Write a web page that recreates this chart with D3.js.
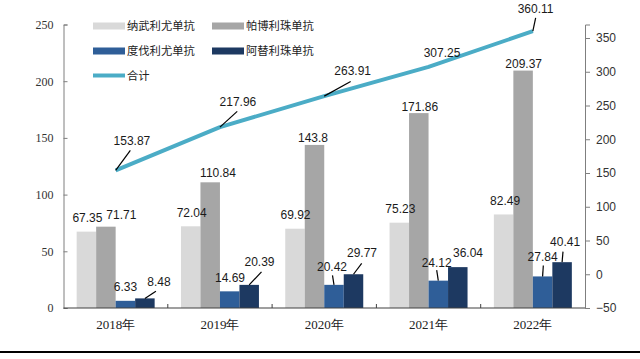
<!DOCTYPE html>
<html>
<head>
<meta charset="utf-8">
<script src="https://cdn.jsdelivr.net/npm/d3@7"></script>
<style>
  html, body { margin: 0; padding: 0; background: #fff; }
  svg { display: block; }
</style>
</head>
<body>
<svg id="chart" width="640" height="359"></svg>
<script>
// data
const years = ["2018年", "2019年", "2020年", "2021年", "2022年"];
const seriesNames = ["纳武利尤单抗", "帕博利珠单抗", "度伐利尤单抗", "阿替利珠单抗"];
const nivolumab = [67.35, 72.04, 69.92, 75.23, 82.49];
const pembrolizumab = [71.71, 110.84, 143.8, 171.86, 209.37];
const durvalumab = [6.33, 14.69, 20.42, 24.12, 27.84];
const atezolizumab = [8.48, 20.39, 29.77, 36.04, 40.41];
const totalName = "合计";
const total = [153.87, 217.96, 263.91, 307.25, 360.11];
const leftTicks = [0, 50, 100, 150, 200, 250];
const rightTicks = [-50, 0, 50, 100, 150, 200, 250, 300, 350];

const barSeries = [nivolumab, pembrolizumab, durvalumab, atezolizumab];
const colors = ["#d9d9d9", "#a6a6a6", "#2f5e98", "#1d3961"];
const lineColor = "#4bacc6";

// label nudges: [dx, dy, leader end dx, leader end dy] relative to mark top (null = no leader)
const barNudge = [
  [[1, -9.5], [1, -9.5], [0.5, -9.5], [1, -9.5], [1.5, -9.5]],
  [[15.4, -8], [7.8, -5], [-1.5, -3], [1, -2.5], [0.6, -2.6]],
  [[0, -9.5], [0.3, -9.3], [-2, -14, -1.5, -9.5], [-1.6, -13.6, -1.6, -10.5], [0, -15.7, 0.7, -11]],
  [[14, -12.4, 11, -7.2], [10.3, -19, 12.3, -13], [8.5, -17, 8.2, -10.9], [10.2, -9.8], [3, -16.5, 0.9, -10.5]]
];
const lineNudge = [[16.3, -25, 14.7, -20], [18, -20.7, 17.3, -15.7], [28.4, -20.8, 26.4, -14.6], [13.5, -10], [2.7, -18.6, 2.8, -13.3]];

const svg = d3.select("#chart");
const plot = { left: 63.5, right: 585, top: 24.5, bottom: 308 };

const x0 = d3.scaleBand().domain(years).range([plot.left, plot.right]).paddingInner(0).paddingOuter(0);
const x1 = d3.scaleBand().domain(d3.range(4)).range([0, x0.bandwidth()]).paddingInner(0).paddingOuter(0.675);
const yL = d3.scaleLinear().domain([0, 250]).range([plot.bottom, plot.top]);
const yR = d3.scaleLinear().domain([-50, 370]).range([plot.bottom, plot.top]);

const labelFont = "Arial, 'Liberation Sans', sans-serif";

// bars
barSeries.forEach((vals, si) => {
  const g = svg.append("g");
  g.selectAll("rect")
    .data(vals)
    .join("rect")
    .attr("x", (d, i) => x0(years[i]) + x1(si))
    .attr("y", d => yL(d))
    .attr("width", x1.bandwidth())
    .attr("height", d => yL(0) - yL(d))
    .attr("fill", colors[si]);
});

// axes
const axisLeft = svg.append("g")
  .attr("transform", `translate(${plot.left},0)`)
  .call(d3.axisLeft(yL).tickValues(leftTicks).tickSize(-4).tickPadding(10));
axisLeft.select(".domain").attr("stroke", "#7f7f7f");
axisLeft.selectAll(".tick line").attr("stroke", "#7f7f7f");
axisLeft.selectAll("text")
  .attr("fill", "#333")
  .style("font-family", "'Liberation Serif', 'Times New Roman', serif")
  .style("font-size", "12px");

const axisRight = svg.append("g")
  .attr("transform", `translate(${plot.right},0)`)
  .call(d3.axisRight(yR).tickValues(rightTicks).tickSize(5).tickPadding(6));
axisRight.select(".domain").attr("stroke", "#7f7f7f");
axisRight.selectAll(".tick line").attr("stroke", "#7f7f7f");
axisRight.selectAll("text")
  .attr("fill", "#333")
  .style("font-family", labelFont)
  .style("font-size", "12px");

// x axis: line with small upward ticks at category boundaries
const axisBottom = svg.append("g").attr("transform", `translate(0,${plot.bottom})`);
axisBottom.append("line")
  .attr("x1", plot.left).attr("x2", plot.right)
  .attr("stroke", "#404040").attr("stroke-width", 1.2);
axisBottom.selectAll(".sep")
  .data(years.slice(1))
  .join("line")
  .attr("class", "sep")
  .attr("x1", d => x0(d)).attr("x2", d => x0(d))
  .attr("y1", 0).attr("y2", -4)
  .attr("stroke", "#404040");
axisBottom.selectAll(".cat")
  .data(years)
  .join("text")
  .attr("class", "cat")
  .attr("x", d => x0(d) + x0.bandwidth() / 2)
  .attr("y", 21)
  .attr("text-anchor", "middle")
  .attr("fill", "#222")
  .style("font-family", "'Liberation Serif', 'Times New Roman', serif")
  .style("font-size", "13px")
  .text(d => d);

// total line
const cx = i => x0(years[i]) + x0.bandwidth() / 2;
svg.append("path")
  .datum(total)
  .attr("fill", "none")
  .attr("stroke", lineColor)
  .attr("stroke-width", 4)
  .attr("stroke-linejoin", "round")
  .attr("d", d3.line().x((d, i) => cx(i)).y(d => yR(d)));

// labels
const labels = svg.append("g");
function addLabel(ax, ay, nudge, text) {
  const [dx, dy, lx, ly] = nudge;
  if (lx !== undefined) {
    labels.append("line")
      .attr("x1", ax).attr("y1", ay)
      .attr("x2", ax + lx).attr("y2", ay + ly)
      .attr("stroke", "#000").attr("stroke-width", 1.2);
  }
  labels.append("text")
    .attr("x", ax + dx).attr("y", ay + dy)
    .attr("text-anchor", "middle")
    .attr("fill", "#1a1a1a")
    .style("font-family", labelFont)
    .style("font-size", "12px")
    .text(text);
}

barSeries.forEach((vals, si) => {
  vals.forEach((v, i) => {
    const ax = x0(years[i]) + x1(si) + x1.bandwidth() / 2;
    addLabel(ax, yL(v), barNudge[si][i], String(v));
  });
});
total.forEach((v, i) => addLabel(cx(i), yR(v), lineNudge[i], String(v)));

// legend
const legendItems = seriesNames.map((n, i) => ({ name: n, color: colors[i], type: "rect" }))
  .concat([{ name: totalName, color: lineColor, type: "line" }]);
const legendPos = [[93, 26], [212, 26], [93, 51], [212, 51], [93, 75.5]];
const legend = svg.append("g");
legendItems.forEach((it, i) => {
  const [lx, ly] = legendPos[i];
  if (it.type === "rect") {
    legend.append("rect")
      .attr("x", lx).attr("y", ly - 3.5)
      .attr("width", 32).attr("height", 7)
      .attr("fill", it.color);
  } else {
    legend.append("line")
      .attr("x1", lx).attr("x2", lx + 32)
      .attr("y1", ly).attr("y2", ly)
      .attr("stroke", it.color).attr("stroke-width", 4);
  }
  legend.append("text")
    .attr("x", lx + 34).attr("y", ly + 4)
    .attr("fill", "#222")
    .style("font-family", "'Noto Sans CJK SC', sans-serif")
    .style("font-size", "11.3px")
    .text(it.name);
});

// bottom rule
svg.append("line")
  .attr("x1", 0).attr("x2", 640)
  .attr("y1", 352).attr("y2", 352)
  .attr("stroke", "#000").attr("stroke-width", 2);
</script>
</body>
</html>
